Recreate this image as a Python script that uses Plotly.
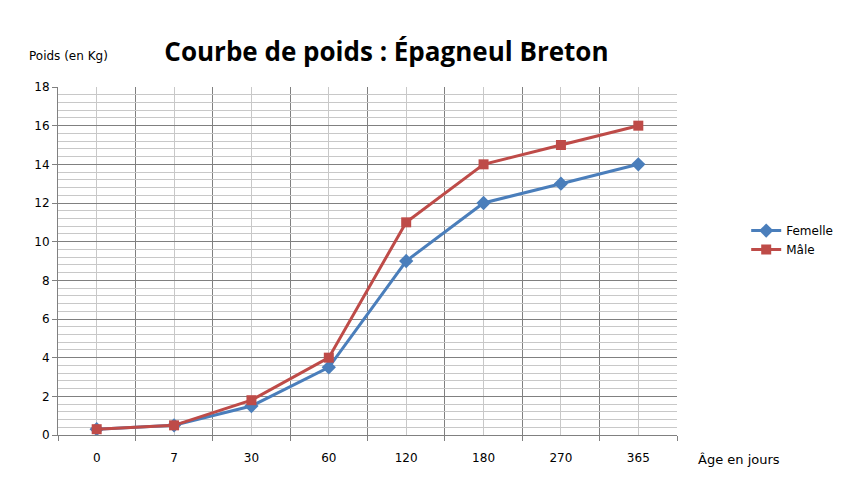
import plotly.graph_objects as go

ages = ["0", "7", "30", "60", "120", "180", "270", "365"]
femelle = [0.3, 0.5, 1.5, 3.5, 9, 12, 13, 14]
male = [0.3, 0.5, 1.8, 4, 11, 14, 15, 16]

x = list(range(len(ages)))

fig = go.Figure()
fig.add_trace(go.Scatter(x=x, y=femelle, name="Femelle", mode="lines+markers",
                         line=dict(color="#4a7ebb", width=3),
                         marker=dict(symbol="diamond", size=11, color="#4a7ebb")))
fig.add_trace(go.Scatter(x=x, y=male, name="Mâle", mode="lines+markers",
                         line=dict(color="#be4b48", width=3),
                         marker=dict(symbol="square", size=10, color="#be4b48")))

fig.update_layout(
    width=841, height=490,
    paper_bgcolor="white", plot_bgcolor="white",
    margin=dict(l=50, r=171, t=79, b=63),
    font=dict(family="DejaVu Sans", size=12, color="black"),
    title=dict(text="<b>Courbe de poids : Épagneul Breton</b>", x=0.45, xanchor="center",
               y=0.93, font=dict(size=26, family="Open Sans")),
    legend=dict(x=1.11, y=0.56, xanchor="left", yanchor="middle",
                font=dict(size=12), tracegroupgap=5),
    xaxis=dict(range=[-0.5, 7.5], tickvals=x, ticktext=ages,
               showgrid=True, gridcolor="#c8c8c8", gridwidth=1,
               showline=True, linecolor="#808080", zeroline=False,
               ticks="", ticklabelstandoff=12,
               minor=dict(tick0=0.5, dtick=1, showgrid=True, gridcolor="#808080",
                          ticks="outside", ticklen=5, tickcolor="#808080")),
    yaxis=dict(range=[0, 18], dtick=2, showgrid=True, gridcolor="#808080",
               showline=True, linecolor="#808080", zeroline=False,
               ticks="outside", ticklen=5, tickcolor="#808080",
               minor=dict(dtick=0.4, showgrid=True, gridcolor="#c8c8c8")),
    annotations=[
        dict(text="Poids (en Kg)", xref="paper", yref="paper", x=-0.05, y=1.115,
             xanchor="left", showarrow=False, font=dict(size=12)),
        dict(text="Âge en jours", xref="paper", yref="paper", x=1.03, y=-0.07,
             xanchor="left", yanchor="middle", showarrow=False, font=dict(size=13)),
    ],
)

fig.write_html("out.html")
